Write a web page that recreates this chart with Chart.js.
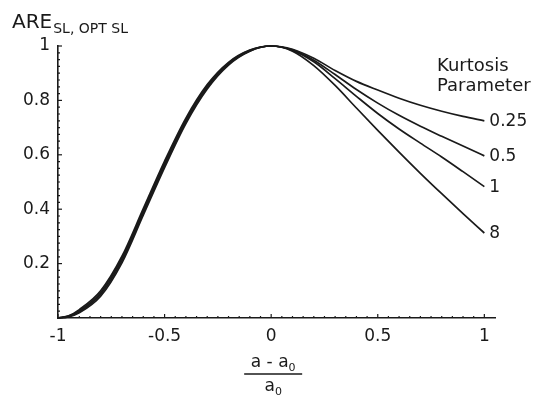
<!DOCTYPE html>
<html>
<head>
<meta charset="utf-8">
<script src="https://cdn.jsdelivr.net/npm/chart.js@4"></script>
<style>
  html, body { margin: 0; padding: 0; background: #fff; }
  #wrap { width: 533px; height: 397px; position: relative; }
</style>
</head>
<body>
<div id="wrap"><canvas id="chart-are"></canvas></div>
<script>
// x = (a - a0) / a0
const xValues = [-1, -0.95, -0.9, -0.8, -0.7, -0.6, -0.5, -0.4, -0.3, -0.2, -0.1, 0,
                 0.1, 0.2, 0.3, 0.4, 0.5, 0.6, 0.7, 0.8, 0.9, 1];

// ARE per kurtosis parameter
const areK025 = [0, 0.004, 0.019, 0.080, 0.203, 0.378, 0.553, 0.715, 0.842, 0.930, 0.981, 1,
                 0.988, 0.955, 0.910, 0.870, 0.838, 0.808, 0.782, 0.760, 0.741, 0.725];
const areK05  = [0, 0.005, 0.023, 0.087, 0.211, 0.386, 0.561, 0.722, 0.847, 0.933, 0.982, 1,
                 0.986, 0.948, 0.895, 0.840, 0.790, 0.745, 0.705, 0.668, 0.632, 0.596];
const areK1   = [0, 0.007, 0.027, 0.093, 0.219, 0.394, 0.569, 0.728, 0.853, 0.937, 0.984, 1,
                 0.984, 0.942, 0.880, 0.815, 0.752, 0.695, 0.643, 0.592, 0.538, 0.483];
const areK8   = [0, 0.008, 0.031, 0.100, 0.227, 0.402, 0.577, 0.735, 0.858, 0.940, 0.985, 1,
                 0.981, 0.928, 0.855, 0.772, 0.690, 0.610, 0.532, 0.457, 0.384, 0.3125];

const seriesLabels = ['0.25', '0.5', '1', '8'];
const seriesValues = [areK025, areK05, areK1, areK8];

const xTicks = [-1, -0.5, 0, 0.5, 1];
const yTicks = [0, 0.2, 0.4, 0.6, 0.8, 1];

const FONT = '"DejaVu Sans", "Liberation Sans", Arial, sans-serif';
const INK = '#1a1a1a';

// 軸內側刻度、標題、曲線標籤
const decorPlugin = {
    id: 'decor',
    afterDatasetsDraw(chart) {
        const { ctx, chartArea, scales } = chart;
        const xs = scales.x, ys = scales.y;
        ctx.save();
        ctx.strokeStyle = INK;
        ctx.lineWidth = 1.2;

        // y 軸刻度
        for (let i = 1; i <= 40; i++) {
            const py = ys.getPixelForValue(i * 0.025);
            const len = (i % 8 === 0) ? 4 : 2;
            ctx.beginPath();
            ctx.moveTo(chartArea.left, py);
            ctx.lineTo(chartArea.left + len, py);
            ctx.stroke();
        }
        // x 軸刻度
        for (let i = 0; i <= 40; i++) {
            const px = xs.getPixelForValue(-1 + i * 0.05);
            const len = (i % 10 === 0) ? 4 : 2;
            ctx.beginPath();
            ctx.moveTo(px, chartArea.bottom);
            ctx.lineTo(px, chartArea.bottom - len);
            ctx.stroke();
        }

        ctx.fillStyle = INK;
        ctx.textBaseline = 'alphabetic';
        ctx.textAlign = 'left';

        // y 軸標題 ARE_{SL, OPT SL}
        ctx.font = '20px ' + FONT;
        ctx.fillText('ARE', 12, 28);
        const areW = ctx.measureText('ARE').width;
        ctx.font = '14px ' + FONT;
        ctx.fillText('SL, OPT SL', 12 + areW + 1, 33);

        // x 軸標題 (a - a0) / a0
        const cx = xs.getPixelForValue(0) + 2;
        ctx.font = '17px ' + FONT;
        const num = 'a - a';
        const numW = ctx.measureText(num).width;
        ctx.font = '11px ' + FONT;
        const subW = ctx.measureText('0').width;
        let sx = cx - (numW + subW) / 2;
        ctx.font = '17px ' + FONT;
        ctx.fillText(num, sx, 367);
        ctx.font = '11px ' + FONT;
        ctx.fillText('0', sx + numW, 371);

        ctx.lineWidth = 1.5;
        ctx.beginPath();
        ctx.moveTo(cx - 29, 374);
        ctx.lineTo(cx + 29, 374);
        ctx.stroke();

        ctx.font = '17px ' + FONT;
        const denW = ctx.measureText('a').width;
        sx = cx - (denW + subW) / 2;
        ctx.fillText('a', sx, 391);
        ctx.font = '11px ' + FONT;
        ctx.fillText('0', sx + denW, 395);

        // 圖例標題
        ctx.font = '18px ' + FONT;
        ctx.fillText('Kurtosis', 437, 71);
        ctx.fillText('Parameter', 437, 91);

        // 曲線末端標籤
        ctx.font = '17px ' + FONT;
        ctx.textBaseline = 'middle';
        chart.data.datasets.forEach((ds, i) => {
            const last = ds.data[ds.data.length - 1];
            const px = xs.getPixelForValue(last.x);
            const py = ys.getPixelForValue(last.y);
            ctx.fillText(seriesLabels[i], px + 5, py + 1);
        });
        ctx.restore();
    }
};

const datasets = seriesValues.map((vals, i) => ({
    label: seriesLabels[i],
    data: xValues.map((x, j) => ({ x: x, y: vals[j] })),
    borderColor: INK,
    borderWidth: 1.7,
    pointRadius: 0,
    fill: false,
    cubicInterpolationMode: 'monotone',
    clip: false
}));

new Chart(document.getElementById('chart-are'), {
    type: 'line',
    data: { datasets },
    options: {
        responsive: true,
        maintainAspectRatio: false,
        animation: false,
        layout: { padding: { top: 46, right: 38, left: 0, bottom: 0 } },
        plugins: { legend: { display: false }, tooltip: { enabled: false } },
        scales: {
            x: {
                type: 'linear',
                min: -1,
                max: 1.05,
                afterBuildTicks: s => { s.ticks = xTicks.map(v => ({ value: v })); },
                afterFit: s => { s.height = 79; },
                grid: { display: false, drawTicks: false },
                border: { display: true, color: INK, width: 1.6 },
                ticks: {
                    padding: 8,
                    color: INK,
                    font: { family: FONT, size: 17 },
                    callback: v => String(v)
                }
            },
            y: {
                type: 'linear',
                min: 0,
                max: 1,
                afterBuildTicks: s => { s.ticks = yTicks.map(v => ({ value: v })); },
                afterFit: s => { s.width = 58; },
                grid: { display: false, drawTicks: false },
                border: { display: true, color: INK, width: 1.6 },
                ticks: {
                    padding: 8,
                    color: INK,
                    font: { family: FONT, size: 17 },
                    callback: v => v === 0 ? '' : String(v)
                }
            }
        }
    },
    plugins: [decorPlugin]
});
</script>
</body>
</html>
